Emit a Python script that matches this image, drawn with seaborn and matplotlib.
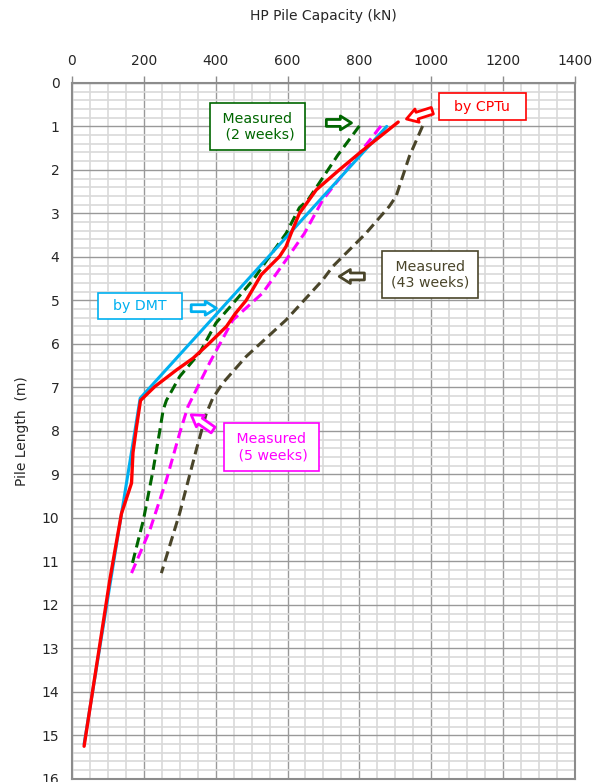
import numpy as np
import pandas as pd
import matplotlib.pyplot as plt
import seaborn as sns
from matplotlib.ticker import MultipleLocator

# pile capacity (kN) vs pile length (m)
cptu_q = [908, 805, 744, 680, 633, 610, 596, 578, 550, 527, 510, 485, 455, 430, 378, 337, 291, 231, 191, 180, 170, 166, 150, 138, 106, 34]
cptu_z = [0.9, 1.58, 2.0, 2.46, 3.0, 3.46, 3.76, 3.99, 4.22, 4.41, 4.65, 5.0, 5.3, 5.6, 6.02, 6.33, 6.6, 6.98, 7.3, 7.9, 8.5, 9.2, 9.6, 9.9, 11.4, 15.25]

dmt_q = [876, 190, 150, 34]
dmt_z = [1.0, 7.25, 9.3, 15.2]

wk2_q = [800, 740, 657, 633, 596, 550, 504, 461, 401, 356, 300, 263, 254, 245, 226, 199, 166]
wk2_z = [0.99, 1.66, 2.69, 2.87, 3.46, 3.99, 4.53, 4.95, 5.52, 6.2, 6.75, 7.3, 7.52, 7.98, 8.9, 10.05, 11.12]

wk5_q = [860, 698, 647, 596, 531, 448, 383, 323, 300, 263, 217, 166]
wk5_z = [0.99, 2.69, 3.46, 4.07, 4.83, 5.45, 6.44, 7.44, 8.05, 9.13, 10.28, 11.27]

wk43_q = [976, 939, 902, 883, 818, 726, 698, 596, 485, 420, 392, 374, 346, 300, 249]
wk43_z = [0.99, 1.69, 2.61, 2.84, 3.46, 4.22, 4.53, 5.45, 6.29, 6.9, 7.25, 7.6, 8.44, 9.89, 11.27]

sns.set_style("white")
plt.rcParams["font.family"] = ["DejaVu Sans"]

fig = plt.figure(figsize=(6.04, 7.82), dpi=100)
ax = fig.add_axes([0.119, 0.004, 0.833, 0.890])

red = "#ff0000"
blue = "#00b0f0"
green = "#006600"
magenta = "#ff00ff"
olive = "#4a452a"
dash = (0, (3.4, 1.8))

sns.lineplot(x=wk43_q, y=wk43_z, sort=False, estimator=None, color=olive, lw=2.2, ax=ax).lines[-1].set_linestyle(dash)
sns.lineplot(x=wk2_q, y=wk2_z, sort=False, estimator=None, color=green, lw=2.2, ax=ax).lines[-1].set_linestyle(dash)
sns.lineplot(x=wk5_q, y=wk5_z, sort=False, estimator=None, color=magenta, lw=2.2, ax=ax).lines[-1].set_linestyle(dash)
sns.lineplot(x=dmt_q, y=dmt_z, sort=False, estimator=None, color=blue, lw=2.2, ax=ax)
sns.lineplot(x=cptu_q, y=cptu_z, sort=False, estimator=None, color=red, lw=2.4, ax=ax)

ax.set_xlim(0, 1400)
ax.set_ylim(16, 0)
ax.xaxis.set_major_locator(MultipleLocator(200))
ax.xaxis.set_minor_locator(MultipleLocator(50))
ax.yaxis.set_major_locator(MultipleLocator(1))
ax.yaxis.set_minor_locator(MultipleLocator(0.2))
ax.xaxis.tick_top()
ax.xaxis.set_label_position("top")
ax.grid(which="minor", color="#d9d9d9", lw=1.2, zorder=0)
ax.grid(which="major", color="#999999", lw=1.0, zorder=0)
ax.set_axisbelow(True)
ax.tick_params(which="major", length=5, width=1, color="#8c8c8c", labelsize=10)
ax.tick_params(axis="x", which="major", pad=6)
ax.tick_params(axis="y", which="major", pad=4)
ax.tick_params(which="minor", length=0)
for s in ax.spines.values():
    s.set_color("#8c8c8c")
    s.set_linewidth(1.5)

ax.set_xlabel("HP Pile Capacity (kN)", fontsize=10, labelpad=24)
ax.set_ylabel("Pile Length  (m)", fontsize=10, labelpad=9)


def label(x, y, txt, color, pad=0.5):
    ax.text(x, y, txt, color=color, fontsize=10.2, ha="center", va="center",
            multialignment="center",
            bbox=dict(boxstyle=f"square,pad={pad}", fc="white", ec=color, lw=1.2))


def arrow(tail, head, color):
    ax.annotate("", xy=head, xytext=tail,
                arrowprops=dict(arrowstyle="simple,head_length=0.8,head_width=1.0,tail_width=0.5",
                                fc="white", ec=color, lw=2, shrinkA=0, shrinkB=0))


label(517, 1.01, " Measured \n (2 weeks)", green, pad=0.6)
label(1142, 0.55, "  by CPTu  ", red, pad=0.45)
label(997, 4.41, " Measured \n(43 weeks)", olive, pad=0.6)
label(189, 5.13, "  by DMT  ", blue, pad=0.45)
label(555, 8.37, " Measured \n (5 weeks)", magenta, pad=0.6)

arrow((708, 0.92), (778, 0.92), green)
arrow((1003, 0.64), (931, 0.83), red)
arrow((814, 4.45), (744, 4.45), olive)
arrow((332, 5.18), (402, 5.18), blue)
arrow((393, 7.98), (332, 7.63), magenta)

fig.savefig("out.png", dpi=100)
